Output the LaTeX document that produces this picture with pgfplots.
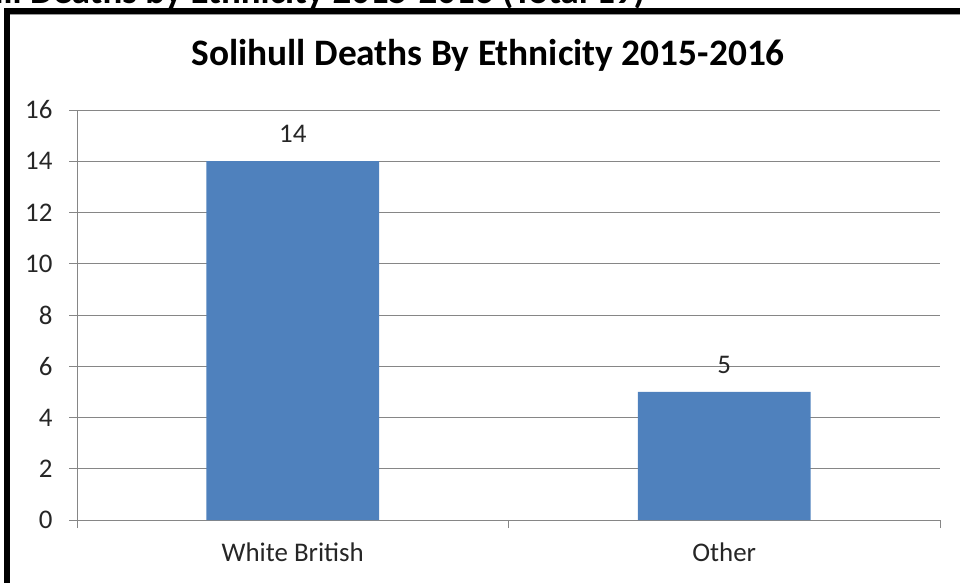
\documentclass[border=0pt]{standalone}
\usepackage{pgfplots}
\pgfplotsset{compat=1.18}
\usepackage{fontspec}
\setmainfont{Carlito}
\definecolor{barblue}{RGB}{79,129,189}
\definecolor{gridgray}{RGB}{134,134,134}
\begin{document}
\begin{tikzpicture}
\useasboundingbox (0bp,0bp) rectangle (960bp,583bp);
\begin{scope}
\clip (0bp,0bp) rectangle (960bp,583bp);
\node[anchor=base east, font=\fontsize{37}{42}\selectfont\bfseries, inner sep=0] at (645bp,579.5bp) {Solihull Deaths by Ethnicity 2015-2016 (Total 19)};
\draw[black!40, line width=1.5bp] (10bp,569bp) -- (960bp,569bp);
\draw[line width=6bp] (7bp,0bp) -- (7bp,572bp) -- (960bp,572bp);
\end{scope}
\node[font=\fontsize{37.5}{42}\selectfont\bfseries, anchor=base] at (488bp,517bp) {Solihull Deaths By Ethnicity 2015-2016};
\begin{axis}[
  at={(77bp,63bp)}, anchor=south west,
  scale only axis, width=863bp, height=410bp,
  xmin=0, xmax=2, ymin=0, ymax=16,
  ytick={0,2,...,16},
  xtick={0.5,1.5}, xticklabels={White British, Other},
  minor xtick={0,1,2},
  axis x line*=bottom, axis y line*=left,
  tick align=outside,
  major x tick style={draw=none},
  major tick length=8bp, minor tick length=8bp,
  ymajorgrids,
  grid style={gridgray, line width=0.8bp},
  axis line style={gridgray, line width=0.8bp, -},
  tick style={gridgray, line width=0.8bp},
  ybar, bar width=0.4, bar shift=0pt,
  nodes near coords,
  nodes near coords style={font=\fontsize{27}{32}\selectfont, text=black!85, yshift=15bp},
  ticklabel style={font=\fontsize{27}{32}\selectfont, text=black!85},
  xticklabel style={yshift=-11bp},
  yticklabel style={xshift=-13bp},
  /pgf/number format/assume math mode=true,
  clip=false,
]
\addplot[fill=barblue, draw=none] coordinates {(0.5,14) (1.5,5)};
\end{axis}
\end{tikzpicture}
\end{document}
